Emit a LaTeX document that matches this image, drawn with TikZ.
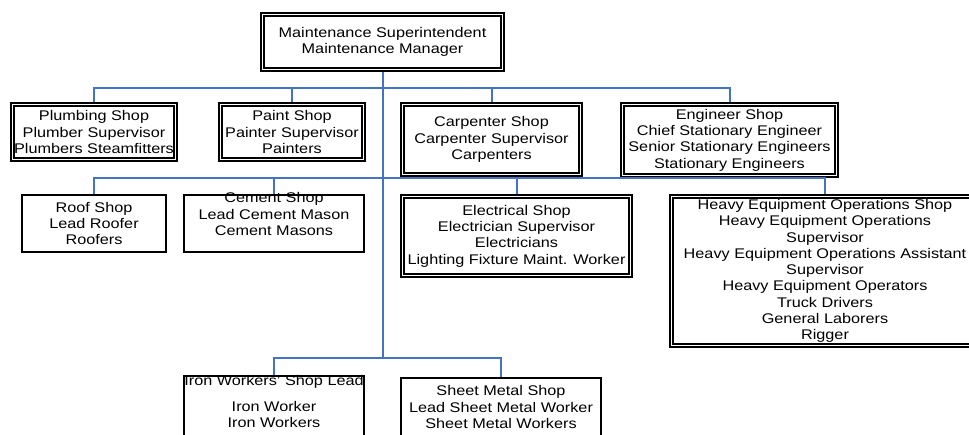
\documentclass[tikz,border=0pt]{standalone}
\usepackage{fontspec}
\setmainfont{Liberation Sans}[FakeStretch=1.16]
\usetikzlibrary{calc}
\definecolor{linkblue}{RGB}{68,114,196}

\begin{document}
\begin{tikzpicture}[x=1pt,y=-1pt,
  txt/.style={font=\fontsize{14}{16.3}\selectfont,align=center,inner sep=0pt},
  single/.style={txt,draw,line width=2.2pt},
  dbl/.style={txt,draw,line width=1.8pt},
  link/.style={linkblue,line width=2pt}]
\useasboundingbox (0,0) rectangle (969,434);
% head
\node[dbl,minimum width=243.2,minimum height=58.2] (top) at (382.5,42)
  {Maintenance Superintendent\\Maintenance Manager};
% first row
\node[dbl,minimum width=166.2,minimum height=58.2] (plumbing) at (94,132)
  {Plumbing Shop\\Plumber Supervisor\\Plumbers Steamfitters};
\node[dbl,minimum width=146.2,minimum height=58.2] (paint) at (292,132)
  {Paint Shop\\Painter Supervisor\\Painters};
\node[dbl,minimum width=181.2,minimum height=73.2] (carpenter) at (491.5,139.5)
  {Carpenter Shop\\Carpenter Supervisor\\Carpenters};
\node[dbl,minimum width=217.2,minimum height=74.2] (engineer) at (729.5,140)
  {Engineer Shop\\Chief Stationary Engineer\\Senior Stationary Engineers\\Stationary Engineers};
% second row
\node[single,minimum width=143.8,minimum height=56.8] (roof) at (94,223.5)
  {Roof Shop\\Lead Roofer\\Roofers};
\node[single,minimum width=179.8,minimum height=56.8] (cement) at (274,223.5) {};
\node[txt] (cementtxt) at (274,214) {Cement Shop\\Lead Cement Mason\\Cement Masons};
\node[dbl,minimum width=231.2,minimum height=82.2] (electrical) at (516.5,236)
  {Electrical Shop\\Electrician Supervisor\\Electricians\\Lighting Fixture Maint. Worker};
\node[dbl,minimum width=310.2,minimum height=152.2] (heavy) at (825,271)
  {Heavy Equipment Operations Shop\\Heavy Equipment Operations\\Supervisor\\
   Heavy Equipment Operations Assistant\\Supervisor\\Heavy Equipment Operators\\
   Truck Drivers\\General Laborers\\Rigger};
% inner frames of the double boxes
\foreach \n in {top,plumbing,paint,carpenter,engineer,electrical,heavy}
  \draw[line width=1.8pt] ([shift={(3.8pt,-3.8pt)}]\n.north west)
    rectangle ([shift={(-3.8pt,3.8pt)}]\n.south east);
% bottom row
\node[single,minimum width=179.8,minimum height=92.8] (iron) at (274,422.5) {};
\node[txt] (irontxt) at (274,401.5) {Iron Workers' Shop Lead\\[10pt]Iron Worker\\Iron Workers};
\node[single,minimum width=199.8,minimum height=90.8] (sheet) at (501,423.5) {};
\node[txt] (sheettxt) at (501,407) {Sheet Metal Shop\\Lead Sheet Metal Worker\\Sheet Metal Workers};
% buses
\coordinate (busA) at (0,88);
\coordinate (busB) at (0,178);
\coordinate (busC) at (0,358);
\draw[link] (top.south) -- (top.south |- busC);
\draw[link] (plumbing.north) -- (plumbing.north |- busA) -- (engineer.north |- busA) -- (engineer.north);
\foreach \n in {paint,carpenter} \draw[link] (\n.north) -- (\n.north |- busA);
\draw[link] (roof.north) -- (roof.north |- busB) -- (heavy.north |- busB) -- (heavy.north);
\foreach \n in {cement,electrical} \draw[link] (\n.north) -- (\n.north |- busB);
\draw[link] (iron.north) -- (iron.north |- busC) -- (sheet.north |- busC) -- (sheet.north);
\end{tikzpicture}
\end{document}
